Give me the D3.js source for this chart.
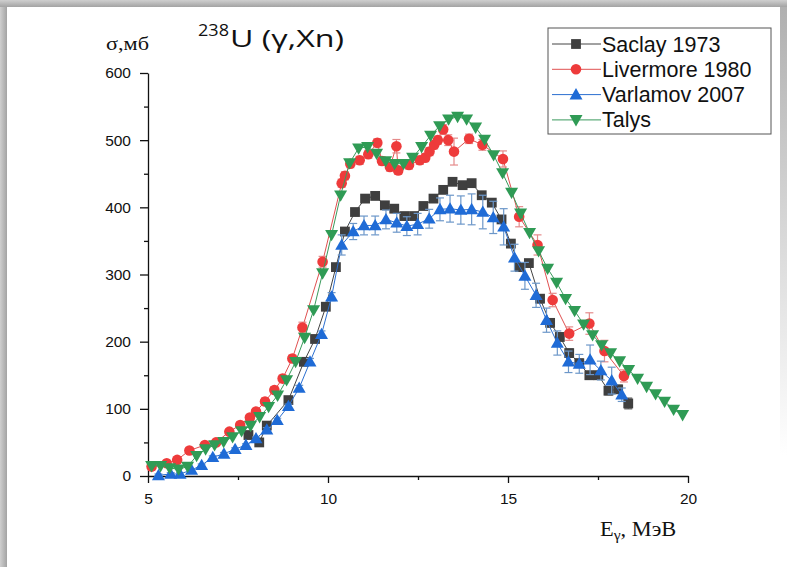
<!DOCTYPE html>
<meta charset="utf-8">
<script src="https://cdn.jsdelivr.net/npm/d3@7"></script>
<style>
  body { margin: 0; background: #fff; }
  svg { display: block; }
</style>
<div id="chart"></div>
<script>
// values: photon energy (MeV), cross section (mb), error (mb)
var saclayE = [7.79,8.09,8.3,8.9,9.33,9.64,9.94,10.22,10.47,10.75,11.03,11.31,11.58,11.84,12.12,12.39,12.65,12.93,13.2,13.46,13.74,13.99,14.27,14.55,14.82,15.08,15.33,15.58,15.89,16.17,16.44,16.7,16.98,17.26,17.51,17.79,18.06,18.34];
var saclayS = [61,50,75,113,170,204,252,311,364,393,413,417,403,398,387,387,402,413,426,438,433,436,418,407,382,346,311,317,264,228,207,183,168,150,150,127,129,108];
var saclayErr = [4,4,4,4,4,4,4,4,4,4,4,4,4,4,4,4,4,4,4,4,4,4,4,4,4,4,4,5,6,6,6,6,6,6,6,6,6,8];

var livermoreE = [5.1,5.52,5.81,6.15,6.58,6.89,7.26,7.56,7.83,8.0,8.25,8.51,8.74,9.01,9.29,9.85,10.38,10.47,10.62,10.88,11.12,11.37,11.5,11.72,11.9,11.95,12.25,12.55,12.7,12.82,12.95,13.05,13.2,13.34,13.5,13.92,14.29,14.86,15.31,15.82,16.24,16.7,17.26,17.68,18.22];
var livermoreS = [14,19,24,38,46,50,66,76,87,96,111,128,145,175,221,319,436,447,465,470,479,496,469,460,491,455,463,470,474,483,493,500,516,500,483,502,493,472,386,344,262,212,227,186,149];
var livermoreErr = [5,4,4,4,4,4,4,4,4,4,5,5,5,5,8,8,6,6,6,6,6,6,6,6,10,6,6,6,6,6,6,6,7,8,20,7,8,12,15,15,10,10,16,16,9];

var varlamovE = [5.29,5.63,5.89,6.21,6.49,6.8,7.11,7.42,7.72,8.0,8.3,8.59,8.9,9.2,9.5,9.82,10.1,10.38,10.7,11.0,11.31,11.61,11.91,12.19,12.49,12.81,13.11,13.39,13.69,13.99,14.3,14.59,14.88,15.18,15.47,15.78,16.07,16.37,16.68,16.98,17.28,17.58,17.88,18.16];
var varlamovS = [1,3,3,9,16,28,33,40,46,56,69,83,104,131,170,211,267,344,364,373,373,382,377,372,375,383,397,398,396,397,393,385,371,325,298,269,232,198,170,167,173,157,142,121];
var varlamovErr = [2,2,2,2,2,2,2,2,2,2,3,3,3,4,5,5,6,15,12,14,14,14,14,14,16,14,17,20,21,23,25,24,27,20,20,18,18,18,16,14,22,14,20,10];

var talysE = [5.1,5.35,5.6,5.85,6.1,6.35,6.6,6.85,7.1,7.35,7.6,7.85,8.1,8.35,8.6,8.85,9.1,9.35,9.6,9.85,10.1,10.35,10.6,10.85,11.1,11.35,11.6,11.85,12.1,12.35,12.6,12.85,13.1,13.35,13.6,13.85,14.1,14.35,14.6,14.85,15.1,15.35,15.6,15.85,16.1,16.35,16.6,16.85,17.1,17.35,17.6,17.85,18.1,18.35,18.6,18.85,19.1,19.35,19.6,19.85];
var talysS = [15,15,12,10,14,30,40,46,51,58,67,75,88,103,120,143,170,206,247,302,359,418,466,488,490,480,469,465,465,474,490,507,521,531,535,531,519,501,478,451,422,391,362,335,309,288,264,246,226,210,195,183,171,158,145,133,122,111,99,91];

var seriesNames = ["Saclay 1973", "Livermore 1980", "Varlamov 2007", "Talys"];
var xTicks = [5, 10, 15, 20];
var xMinor = [7.5, 12.5, 17.5];
var yTicks = [0, 100, 200, 300, 400, 500, 600];
var yMinor = [50, 150, 250, 350, 450, 550];

var W = 787, H = 567;

var svg = d3.select("#chart").append("svg")
  .attr("width", W)
  .attr("height", H);

// grey frame shadow round the picture
var defs = svg.append("defs");
var gl = defs.append("linearGradient").attr("id", "shL").attr("x1", 0).attr("x2", 1).attr("y1", 0).attr("y2", 0);
gl.append("stop").attr("offset", 0).attr("stop-color", "#cfcfcf");
gl.append("stop").attr("offset", 1).attr("stop-color", "#a3a3a3");
var gt = defs.append("linearGradient").attr("id", "shT").attr("x1", 0).attr("x2", 0).attr("y1", 0).attr("y2", 1);
gt.append("stop").attr("offset", 0).attr("stop-color", "#cfcfcf");
gt.append("stop").attr("offset", 1).attr("stop-color", "#a3a3a3");
var gr = defs.append("linearGradient").attr("id", "shR").attr("x1", 0).attr("x2", 0).attr("y1", 0).attr("y2", 1);
gr.append("stop").attr("offset", 0).attr("stop-color", "#b0b0b0");
gr.append("stop").attr("offset", 0.8).attr("stop-color", "#ffffff");

svg.append("rect").attr("x", 0).attr("y", 0).attr("width", 7).attr("height", H).attr("fill", "url(#shL)");
svg.append("rect").attr("x", 0).attr("y", 0).attr("width", W).attr("height", 7).attr("fill", "url(#shT)");
svg.append("rect").attr("x", 780).attr("y", 7).attr("width", 7).attr("height", H - 7).attr("fill", "url(#shR)");

// scales
var x = d3.scaleLinear().domain([5, 20]).range([148, 688]);
var y = d3.scaleLinear().domain([0, 600]).range([476, 73]);

// axes
svg.append("g")
  .attr("transform", "translate(0," + y(0) + ")")
  .call(d3.axisBottom(x).tickValues(xTicks).tickSize(7).tickSizeOuter(0).tickPadding(10));
svg.append("g")
  .attr("transform", "translate(0," + y(0) + ")")
  .call(d3.axisBottom(x).tickValues(xMinor).tickSize(4).tickFormat(""))
  .select(".domain").remove();

svg.append("g")
  .attr("transform", "translate(" + x(5) + ",0)")
  .call(d3.axisLeft(y).tickValues(yTicks).tickSize(8).tickSizeOuter(0).tickPadding(9));
svg.append("g")
  .attr("transform", "translate(" + x(5) + ",0)")
  .call(d3.axisLeft(y).tickValues(yMinor).tickSize(4).tickFormat(""))
  .select(".domain").remove();

svg.selectAll(".tick line, .domain").attr("stroke", "#111").attr("stroke-width", 1.3);
svg.selectAll(".tick text")
  .attr("font-family", "Liberation Sans, Arial, sans-serif")
  .attr("font-size", 15.5)
  .attr("fill", "#111");

// series
var series = [
  {name: seriesNames[0], E: saclayE, S: saclayS, err: saclayErr, fill: "#3f3f3f", line: "#444", errc: "#555", shape: "square"},
  {name: seriesNames[1], E: livermoreE, S: livermoreS, err: livermoreErr, fill: "#ee3b3b", line: "#e05050", errc: "#e58a8a", shape: "circle"},
  {name: seriesNames[2], E: varlamovE, S: varlamovS, err: varlamovErr, fill: "#1f6bd6", line: "#2b6fd0", errc: "#6c97c9", shape: "up"},
  {name: seriesNames[3], E: talysE, S: talysS, err: null, fill: "#2f9b55", line: "#3a9a5c", errc: null, shape: "down"}
];

function marker(sel, shape, color) {
  if (shape === "circle") {
    sel.append("circle").attr("r", 5.3).attr("fill", color);
  } else if (shape === "square") {
    sel.append("rect").attr("x", -4.9).attr("y", -4.9).attr("width", 9.8).attr("height", 9.8).attr("fill", color);
  } else if (shape === "up") {
    sel.append("path").attr("d", "M0,-6.5L6.5,4.8L-6.5,4.8Z").attr("fill", color);
  } else {
    sel.append("path").attr("d", "M0,6.5L6.5,-4.8L-6.5,-4.8Z").attr("fill", color);
  }
}

var line = d3.line().x(function(d) { return x(d.e); }).y(function(d) { return y(d.s); });

series.forEach(function(s) {
  var pts = s.E.map(function(e, i) { return {e: e, s: s.S[i], err: s.err ? s.err[i] : 0}; });
  var g = svg.append("g");

  g.append("path").datum(pts)
    .attr("d", line)
    .attr("fill", "none")
    .attr("stroke", s.line)
    .attr("stroke-width", 1);

  if (s.err) {
    var eb = g.selectAll(".eb").data(pts).enter().append("g")
      .attr("stroke", s.errc).attr("stroke-width", 1.2);
    eb.append("line")
      .attr("x1", function(d) { return x(d.e); }).attr("x2", function(d) { return x(d.e); })
      .attr("y1", function(d) { return y(d.s - d.err); }).attr("y2", function(d) { return y(d.s + d.err); });
    eb.append("line")
      .attr("x1", function(d) { return x(d.e) - 4; }).attr("x2", function(d) { return x(d.e) + 4; })
      .attr("y1", function(d) { return y(d.s + d.err); }).attr("y2", function(d) { return y(d.s + d.err); });
    eb.append("line")
      .attr("x1", function(d) { return x(d.e) - 4; }).attr("x2", function(d) { return x(d.e) + 4; })
      .attr("y1", function(d) { return y(d.s - d.err); }).attr("y2", function(d) { return y(d.s - d.err); });
  }

  g.selectAll(".pt").data(pts).enter().append("g")
    .attr("transform", function(d) { return "translate(" + x(d.e) + "," + y(d.s) + ")"; })
    .each(function() { marker(d3.select(this), s.shape, s.fill); });
});

// legend
var lg = svg.append("g");
lg.append("rect")
  .attr("x", 548).attr("y", 28).attr("width", 223).attr("height", 106)
  .attr("fill", "#fff").attr("stroke", "#555").attr("stroke-width", 1);
series.forEach(function(s, i) {
  var ly = 44 + i * 25.3;
  lg.append("line").attr("x1", 552).attr("x2", 601).attr("y1", ly).attr("y2", ly)
    .attr("stroke", s.line).attr("stroke-width", 1);
  var m = lg.append("g").attr("transform", "translate(576," + ly + ")");
  marker(m, s.shape, s.fill);
  lg.append("text").attr("x", 602).attr("y", ly + 7.5)
    .attr("font-family", "Liberation Sans, Arial, sans-serif")
    .attr("font-size", 21.5)
    .attr("fill", "#111")
    .text(s.name);
});

// title
svg.append("text").attr("x", 198).attr("y", 36)
  .attr("font-family", "Open Sans, sans-serif").attr("font-size", 17).attr("fill", "#111")
  .attr("textLength", 31).attr("lengthAdjust", "spacingAndGlyphs")
  .text("238");
svg.append("text").attr("x", 230).attr("y", 47)
  .attr("font-family", "Open Sans, sans-serif").attr("font-size", 23).attr("fill", "#111")
  .attr("textLength", 114).attr("lengthAdjust", "spacingAndGlyphs")
  .text("U (γ,Xn)");

// axis titles
svg.append("text").attr("x", 106).attr("y", 50)
  .attr("font-family", "Liberation Serif, Times New Roman, serif").attr("font-size", 18).attr("fill", "#111")
  .attr("textLength", 43).attr("lengthAdjust", "spacingAndGlyphs")
  .text("σ,мб");

var xl = svg.append("text")
  .attr("transform", "translate(600,536) scale(1.12,1)")
  .attr("font-family", "Liberation Serif, Times New Roman, serif").attr("font-size", 20).attr("fill", "#111");
xl.append("tspan").text("E");
xl.append("tspan").attr("dy", 4).attr("font-size", 14).text("γ");
xl.append("tspan").attr("dy", -4).text(", МэВ");
</script>
